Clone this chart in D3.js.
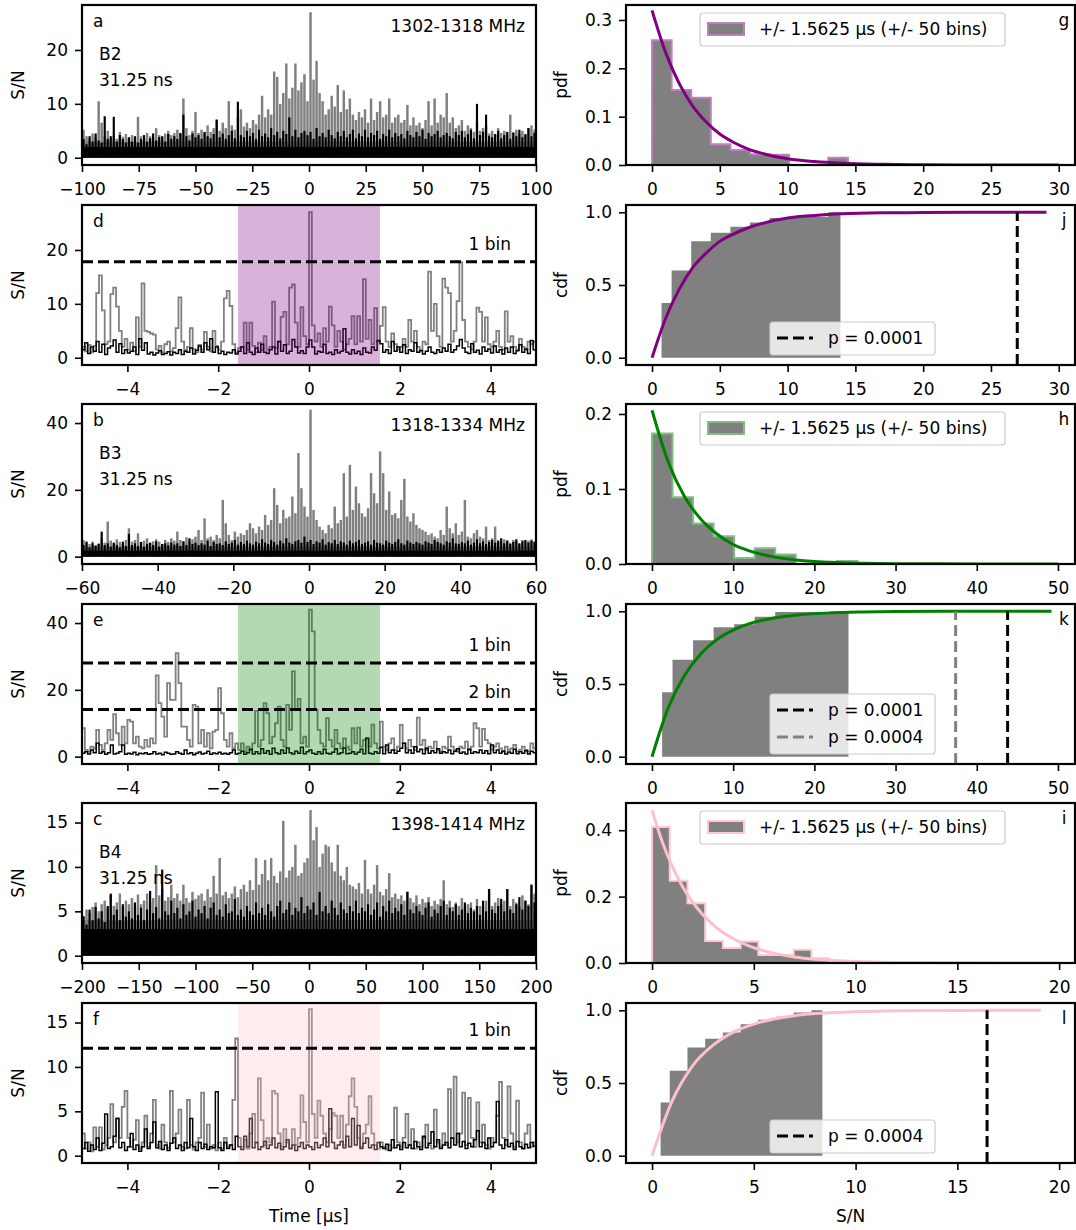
<!DOCTYPE html>
<html>
<head>
<meta charset="utf-8">
<script src="https://cdn.jsdelivr.net/npm/d3@7"></script>
<style>
  body { margin: 0; background: #fff; }
  svg { display: block; font-family: 'DejaVu Sans', sans-serif; }
</style>
</head>
<body>
<script>
// ====================== DATA ======================
// wide time series: per-bin peak S/N (gray = on-source, black = reference)
const aGray = [5.2,4.0,3.5,4.5,3.8,10.5,6.5,4.0,5.0,3.6,4.2,3.5,4.8,3.9,4.4,
  3.6,4.2,3.8,7.6,4.0,3.5,4.6,4.0,3.7,5.5,4.2,3.8,4.5,5.0,4.2,
  4.6,5.2,4.4,11.0,5.5,4.2,5.0,8.5,4.6,5.2,4.5,6.0,4.8,5.5,7.0,
  5.0,6.5,5.5,10.5,6.0,5.2,7.5,9.0,5.8,6.5,5.5,7.0,6.2,8.0,11.5,
  7.5,9.0,8.0,16.0,15.0,10.0,12.0,17.5,11.0,13.0,17.5,12.5,14.0,15.5,10.5,
  27.0,14.5,18.0,12.0,10.5,8.0,9.0,11.5,9.5,13.5,8.5,12.5,9.0,11.0,8.0,
  7.0,8.5,7.5,9.0,6.5,11.0,7.0,8.5,10.5,7.5,8.0,11.0,6.5,7.5,8.0,
  6.5,7.0,9.8,6.0,7.5,6.0,6.5,5.5,7.0,10.5,6.0,11.0,6.5,8.0,7.5,
  12.0,6.5,7.5,5.5,6.0,7.0,5.0,6.0,5.5,4.8,6.5,5.0,5.5,6.0,4.5,
  5.0,4.2,5.5,4.6,5.0,4.4,8.0,4.8,5.2,4.5,5.0,4.2,5.5,6.0,5.2]
const aBlack = [3.5,2.5,4.0,3.0,4.5,3.2,2.8,7.7,3.5,4.0,7.6,3.0,4.2,3.5,2.8,
  3.8,3.0,4.0,2.8,3.5,4.2,3.0,3.6,4.5,3.2,3.8,4.0,3.0,4.4,3.5,
  4.0,3.5,4.6,8.0,4.0,3.2,4.5,3.8,4.2,3.5,4.8,4.0,3.6,4.4,7.1,
  3.8,4.5,3.5,4.2,5.0,3.6,10.4,4.2,3.8,5.0,4.0,4.6,3.5,5.2,4.0,
  4.5,3.8,5.5,4.2,4.8,3.6,5.0,4.4,7.5,4.0,5.2,3.8,4.6,5.0,4.2,
  4.8,3.5,5.5,4.0,4.6,3.8,5.2,4.2,3.6,4.8,4.0,5.0,3.8,4.4,5.2,
  3.6,4.5,4.0,5.2,3.8,4.6,4.2,5.0,3.5,4.4,4.0,5.2,3.8,4.6,4.0,
  4.4,3.6,5.0,4.2,3.8,4.8,4.0,5.2,3.5,4.6,4.0,4.4,5.0,3.8,4.2,
  4.6,4.0,3.6,4.8,4.2,5.0,3.8,4.4,5.2,3.6,10.0,4.2,4.8,8.0,4.0,
  3.8,4.4,5.0,3.6,4.2,4.8,3.5,4.6,4.0,5.2,3.8,4.4,5.5,4.0,4.6]
const bGray = [5.0,4.2,3.8,4.5,3.5,4.0,5.5,4.2,10.5,4.8,4.0,5.2,4.4,3.8,5.0,
  8.5,4.5,5.0,7.0,4.2,4.8,5.5,4.0,4.6,5.2,4.5,3.8,5.0,4.4,5.5,
  4.8,7.5,5.0,4.5,5.8,4.6,5.2,6.0,8.0,5.0,11.5,5.5,6.0,5.0,6.5,
  5.5,17.0,10.0,6.5,5.0,7.5,6.0,7.0,6.5,8.0,10.0,8.5,7.0,9.0,8.0,
  12.5,9.5,11.0,20.5,15.5,10.0,14.0,11.5,12.0,18.0,13.0,31.0,20.5,15.0,12.0,
  44.0,14.0,11.0,9.0,8.0,7.0,9.5,8.5,15.0,10.0,11.0,25.0,12.0,27.5,14.0,
  21.0,16.0,13.0,12.0,14.5,25.0,19.0,16.0,31.5,25.0,14.0,19.5,12.5,13.0,11.5,
  17.0,23.3,12.0,10.5,13.0,9.5,8.5,8.0,7.5,6.5,7.0,6.0,5.5,8.0,6.5,
  15.0,8.5,7.0,10.0,6.5,7.5,17.0,6.0,5.5,7.0,8.0,6.0,5.5,9.0,5.0,
  5.5,9.0,5.0,4.5,5.2,4.8,4.2,5.0,4.5,3.8,5.0,4.4,4.8,5.2,4.6]
const bBlack = [3.5,4.5,2.8,4.0,3.2,3.8,7.5,3.5,4.0,3.0,4.2,3.5,2.8,4.5,3.2,
  6.8,3.5,4.0,3.2,4.4,3.0,3.8,4.2,3.5,4.6,3.0,3.8,4.0,3.4,4.2,
  3.6,4.0,3.2,4.6,3.5,5.5,3.8,4.2,3.5,4.0,3.6,4.8,3.2,4.4,3.8,
  4.0,3.5,4.6,3.8,4.2,5.0,3.6,4.4,3.8,4.8,4.0,3.6,4.5,4.0,5.2,
  4.2,3.8,5.0,4.4,3.6,4.8,4.0,5.5,4.2,3.8,4.6,5.0,4.2,6.0,4.4,
  5.0,3.8,4.6,4.2,5.2,3.6,4.4,4.0,5.0,3.8,4.6,4.2,3.6,4.8,4.0,
  4.4,5.0,3.8,4.2,4.6,3.6,5.0,4.2,4.0,3.6,4.8,4.2,3.8,4.4,5.2,
  4.0,3.6,4.8,4.2,3.8,4.4,4.0,3.6,4.6,4.2,3.8,5.0,4.4,4.0,3.6,
  4.6,4.2,5.5,4.0,3.8,4.4,4.0,4.8,3.6,4.2,5.2,4.0,4.6,3.8,4.4,
  5.0,4.2,4.6,5.5,4.0,4.8,3.8,4.4,5.2,4.0,4.6,5.0,4.2,4.8,4.4]
const cGray = [4.5,5.2,4.8,5.5,6.0,5.0,5.8,6.2,5.4,6.8,5.6,6.0,7.0,5.5,6.2,
  5.8,6.5,5.5,6.9,5.8,6.2,7.0,6.0,6.5,10.2,6.8,7.5,6.2,6.6,8.0,
  6.5,7.0,6.2,8.0,6.5,6.0,7.2,6.4,6.8,7.0,6.2,7.5,6.6,9.0,7.0,
  11.0,6.8,7.2,6.5,7.0,7.8,6.6,7.5,8.0,7.2,8.5,7.4,11.0,8.0,9.2,
  10.8,8.5,11.0,9.0,8.2,9.5,15.2,8.8,9.6,10.0,12.5,9.0,9.3,10.5,11.0,
  16.4,13.0,14.5,10.0,11.5,12.5,12.3,10.5,9.5,12.5,9.0,8.5,10.0,8.0,7.8,
  7.5,8.2,7.0,10.8,7.5,7.0,8.0,10.2,7.2,6.8,7.5,9.3,6.6,7.0,6.4,
  6.8,6.2,7.2,6.5,6.0,6.8,5.8,6.4,6.0,6.6,5.6,6.2,5.8,6.4,8.5,
  5.8,6.2,5.5,6.0,5.6,6.5,5.4,5.8,6.0,5.2,6.4,5.6,5.5,6.2,7.5,
  5.6,6.0,6.5,5.8,6.2,7.5,5.6,6.4,6.0,5.5,6.8,6.2,5.8,8.0,7.0]
const cBlack = [4.4,3.5,5.2,4.0,5.5,4.2,5.0,3.8,5.6,7.0,4.6,5.2,4.0,5.8,4.4,
  5.0,4.2,6.0,4.6,5.4,4.0,5.2,7.3,4.8,5.5,4.2,9.7,5.0,4.6,6.2,
  4.8,5.4,4.2,5.8,4.6,5.0,6.2,4.4,5.2,4.8,5.6,4.2,5.4,6.0,4.6,
  5.2,4.4,5.8,4.8,5.0,6.4,4.6,5.2,4.4,5.6,5.0,4.6,6.0,4.8,5.4,
  4.6,5.8,5.0,4.4,5.6,6.2,4.8,5.2,6.0,4.6,5.4,5.0,6.6,4.8,5.6,
  5.2,6.0,4.6,7.2,5.0,5.6,4.8,6.2,5.4,4.6,6.0,5.2,4.8,5.6,5.0,
  6.2,4.8,5.4,5.0,5.8,4.6,5.2,6.0,4.4,5.6,5.0,6.2,4.8,5.4,5.0,
  5.8,4.6,7.2,5.2,4.8,5.6,5.0,4.6,5.4,6.0,4.4,5.2,4.8,5.6,6.2,
  4.6,5.4,5.0,5.8,4.6,5.2,6.0,4.8,5.4,5.0,5.6,4.6,6.2,5.0,7.5,
  5.2,4.8,5.6,6.4,5.0,7.5,5.2,4.8,5.8,6.6,5.2,6.2,5.6,8.0,6.0]
// level below which each dense trace is solid: [gray, black] for a, b, c
const aFloor = [3.0, 2.0]
const bFloor = [3.0, 1.8]
const cFloor = [4.0, 3.0]

// zoomed time series (-5..5 µs, 62.5 ns steps)
const dGray = [2.0,1.2,2.4,1.0,2.2,12.0,15.3,8.8,2.5,3.0,11.8,13.0,9.5,5.0,2.0,3.5,
  1.5,2.8,1.2,7.5,2.0,13.8,5.0,4.8,4.5,4.3,1.5,2.2,1.0,2.5,3.0,1.2,
  1.8,5.5,11.2,3.0,1.4,2.0,5.5,1.6,1.0,2.4,1.5,4.8,2.0,1.2,5.0,2.2,
  1.5,3.0,11.0,12.4,9.6,2.5,1.0,1.8,2.0,6.5,1.5,6.5,2.2,1.0,2.8,1.4,
  4.0,1.5,2.0,10.4,1.8,3.0,7.6,8.5,2.5,13.0,13.6,6.5,2.0,9.4,4.0,2.5,
  27.0,6.0,3.0,4.5,2.0,5.5,3.0,9.5,6.0,2.0,5.0,3.0,1.5,2.5,3.5,7.7,
  2.5,7.7,3.0,14.6,3.5,7.0,2.5,9.2,3.0,5.9,9.4,3.0,2.0,4.5,2.5,1.5,
  2.0,3.5,2.0,7.0,3.0,5.0,2.0,1.5,3.0,2.5,16.0,5.0,10.0,4.0,2.0,14.7,
  13.0,12.0,3.0,5.0,10.5,17.7,7.0,3.0,2.0,1.5,3.0,9.3,8.5,3.0,7.5,2.5,
  2.0,3.0,5.0,2.0,1.5,8.6,3.0,4.0,2.0,1.5,3.5,2.0,1.5,3.0,2.5,3.0]
const dBlack = [1.5,2.8,0.8,2.0,1.2,3.0,1.0,2.5,0.6,1.8,2.2,3.3,1.0,2.6,0.8,1.5,
  0.9,1.2,2.0,0.6,3.5,1.4,2.8,0.7,1.0,0.5,0.9,1.3,0.6,0.8,1.1,0.5,
  1.0,0.8,1.5,0.6,1.2,1.0,1.8,0.7,1.4,2.2,1.0,2.8,1.5,3.5,1.0,2.0,
  0.8,1.2,0.6,1.0,0.9,1.5,0.7,1.2,2.0,0.8,2.8,1.0,0.6,1.8,1.0,2.5,
  1.0,0.8,1.5,2.0,0.7,3.0,1.2,2.4,0.8,1.2,3.4,2.0,0.9,1.3,0.8,2.0,
  3.3,2.0,0.7,1.2,1.0,2.5,0.8,1.0,0.6,1.5,0.9,1.2,5.4,1.0,0.7,1.5,
  0.8,1.2,0.6,1.8,1.0,0.9,2.0,1.4,3.2,2.6,1.0,1.5,0.8,3.0,1.2,2.0,
  1.0,2.4,0.8,1.5,1.2,2.8,1.0,1.3,0.7,1.2,2.0,1.0,0.8,1.5,1.0,1.8,
  1.2,2.5,1.0,1.5,2.2,3.4,1.8,1.0,0.8,2.6,1.0,1.4,0.7,2.0,1.2,1.6,
  0.9,2.2,1.0,1.5,0.7,1.8,1.0,2.0,0.8,1.3,2.4,1.0,1.6,0.8,3.2,1.5]
const eGray = [8.5,2.0,1.5,3.0,2.5,8.0,3.5,2.0,4.0,8.0,5.0,12.7,7.0,3.5,9.0,4.0,
  11.0,10.5,4.0,6.0,3.0,2.5,5.0,3.0,5.5,4.0,24.3,16.0,12.0,6.0,22.0,17.0,
  17.0,31.0,22.0,9.0,9.0,5.0,3.0,15.5,15.0,4.0,8.0,3.0,7.0,2.5,7.5,8.0,
  20.5,13.0,5.0,3.0,7.0,2.5,4.0,2.0,4.0,1.5,3.0,2.0,4.0,13.7,3.0,5.0,
  16.0,13.0,4.0,6.0,10.0,15.0,5.0,3.0,15.5,8.0,25.5,14.0,17.3,4.0,6.0,3.0,
  44.0,37.5,14.0,8.0,4.0,3.0,11.5,5.0,3.0,8.0,4.0,2.5,5.5,3.0,2.0,8.5,
  4.0,8.7,3.0,5.0,5.5,3.0,9.6,4.0,2.5,10.5,3.0,2.0,4.0,5.5,2.0,3.0,
  9.5,4.0,2.5,5.0,3.0,2.0,11.7,3.5,5.0,2.0,3.0,2.5,4.5,2.0,1.5,3.0,
  2.5,6.0,3.0,2.0,1.5,3.0,2.5,4.5,2.0,3.0,10.0,8.5,3.0,8.3,5.0,4.0,
  2.0,3.0,4.0,2.5,1.5,3.0,2.0,2.5,3.5,1.5,2.0,3.0,2.0,1.5,4.0,2.5]
const eBlack = [1.0,1.5,0.8,2.0,1.2,4.0,1.0,1.5,0.7,1.2,3.5,0.8,1.0,1.5,3.5,0.7,
  1.0,0.8,1.3,0.6,1.0,0.9,1.2,0.7,0.9,1.5,0.8,1.0,0.6,1.3,1.0,0.7,
  0.8,1.5,1.0,0.7,2.0,0.9,1.2,0.6,1.0,1.4,0.8,1.0,1.6,0.7,1.1,0.9,
  1.3,0.8,1.0,0.7,1.2,2.0,0.8,1.0,1.6,0.7,1.2,2.2,0.8,1.5,0.9,2.4,
  1.0,1.8,0.7,2.5,1.2,0.8,2.0,1.0,2.6,1.2,0.8,1.6,1.0,2.8,0.9,1.5,
  2.0,1.0,0.7,1.5,0.9,2.2,1.0,0.8,1.3,2.4,0.8,1.2,2.6,0.9,1.0,1.5,
  0.8,1.3,2.2,0.9,5.5,1.0,0.8,1.5,1.0,2.8,0.9,3.5,1.2,2.0,1.0,1.6,
  2.5,4.0,1.2,2.0,1.0,3.0,1.5,2.2,0.9,2.5,1.0,1.8,1.2,2.4,1.0,1.5,
  1.2,2.0,0.9,1.6,2.4,1.0,1.4,0.8,2.2,1.0,1.5,1.2,2.0,1.0,1.8,0.9,
  3.5,1.2,2.0,1.0,1.6,0.8,1.4,1.0,2.2,0.9,1.5,1.0,1.8,0.8,1.6,1.2]
const fGray = [2.5,0.8,1.5,0.5,3.2,1.0,3.2,0.7,1.2,2.0,5.8,1.5,4.2,2.0,5.5,7.3,
  2.0,1.0,1.8,4.0,0.8,1.5,4.5,1.0,2.5,6.3,1.2,0.8,3.5,1.5,0.9,7.3,
  1.5,2.5,5.2,1.0,0.8,6.3,1.2,0.7,1.5,2.0,7.1,1.0,3.5,0.8,1.2,0.6,
  1.5,0.8,2.0,1.0,1.2,6.3,13.2,2.0,1.0,1.8,0.8,2.5,4.7,1.5,8.7,4.0,
  1.2,2.0,1.5,7.3,7.0,2.5,1.0,3.0,1.5,0.8,3.0,1.2,2.0,6.8,3.8,1.5,
  16.5,4.7,2.0,6.2,4.5,2.5,1.5,3.0,4.8,4.5,2.0,4.5,1.2,3.5,6.7,8.7,
  5.5,2.0,1.0,2.5,3.5,6.7,2.5,1.2,0.8,1.5,1.0,0.7,1.2,0.9,5.4,1.5,
  1.0,2.0,4.7,1.2,3.0,0.8,1.5,1.0,2.0,3.5,1.2,0.8,5.2,1.5,1.0,2.5,
  1.2,7.5,2.0,8.9,1.5,2.5,7.1,1.2,6.5,2.0,1.0,6.0,1.5,3.5,1.2,0.8,
  2.0,1.5,4.5,8.3,2.0,1.2,7.8,2.5,1.0,6.2,1.5,0.8,2.5,3.5,1.0,1.5]
const fBlack = [0.8,1.5,0.5,1.2,0.7,2.0,0.6,1.4,4.7,0.8,1.0,2.2,4.2,0.9,1.5,0.6,
  1.0,2.5,0.7,1.2,0.5,1.0,3.0,0.8,1.5,3.8,0.9,1.6,0.7,1.2,0.6,1.4,
  2.0,0.8,1.2,0.6,1.5,0.9,4.2,1.0,0.6,1.5,0.8,1.3,0.7,1.0,0.9,7.2,
  0.9,0.6,1.5,0.8,1.2,0.7,2.2,1.0,0.7,2.2,1.0,4.2,0.9,1.5,0.7,1.0,
  1.6,0.8,1.2,2.0,0.9,1.4,0.7,1.0,1.8,0.8,1.2,0.6,1.0,1.5,0.8,1.2,
  1.0,0.7,1.5,0.9,1.2,2.0,1.0,5.3,1.5,0.8,1.2,1.6,0.9,2.2,1.0,4.2,
  1.2,3.4,0.8,1.4,2.0,0.9,1.2,0.7,1.5,1.0,0.8,1.3,0.6,1.8,0.9,1.2,
  0.7,1.5,0.9,1.2,0.8,1.6,1.0,0.7,2.2,0.9,1.4,2.7,1.0,1.8,0.8,1.2,
  1.5,0.9,2.0,1.2,2.5,1.0,1.6,0.8,1.4,1.0,1.8,2.8,1.0,1.5,0.8,2.0,
  1.0,1.5,6.1,1.2,0.8,1.8,1.0,1.4,0.7,1.6,1.0,0.8,1.3,0.9,1.5,1.1]

// detection thresholds in zoomed panels
const dThresh = [{ v: 17.8, label: '1 bin' }]
const eThresh = [{ v: 28.0, label: '1 bin' }, { v: 14.1, label: '2 bin' }]
const fThresh = [{ v: 12.1, label: '1 bin' }]

// histograms (pdf) of S/N within +/- 50 bins
const gEdges = [0, 1.445, 2.89, 4.335, 5.78, 7.225, 8.67, 10.115, 11.56, 13.005, 14.45]
const gPdf = [0.258, 0.155, 0.139, 0.043, 0.031, 0.022, 0.021, 0, 0, 0.015]
const hEdges = [0, 2.53, 5.06, 7.59, 10.12, 12.65, 15.18, 17.71, 20.24, 22.77, 25.3]
const hPdf = [0.174, 0.089, 0.054, 0.037, 0.008, 0.021, 0.0126, 0, 0, 0.004]
const iEdges = [0, 0.87, 1.74, 2.61, 3.48, 4.35, 5.22, 6.09, 6.96, 7.83, 8.7]
const iPdf = [0.41, 0.248, 0.18, 0.066, 0.045, 0.065, 0.024, 0.024, 0.04, 0.014]

// cumulative histograms
const jEdges = [0.7, 1.445, 2.89, 4.335, 5.78, 7.225, 8.67, 10.115, 11.56, 13.005, 13.9]
const jCdf = [0.377, 0.60, 0.80, 0.86, 0.90, 0.93, 0.96, 0.97, 0.97, 1.0]
const kEdges = [1.25, 2.53, 5.06, 7.59, 10.12, 12.65, 15.18, 17.71, 20.24, 22.77, 24.2]
const kCdf = [0.443, 0.667, 0.80, 0.89, 0.91, 0.963, 0.995, 0.995, 0.995, 1.0]
const lEdges = [0.42, 0.87, 1.74, 2.61, 3.48, 4.35, 5.22, 6.09, 6.96, 7.83, 8.37]
const lCdf = [0.366, 0.584, 0.744, 0.805, 0.847, 0.904, 0.934, 0.955, 0.984, 1.0]

// exponential fits
const gFitX = [0, 1, 2, 3, 4, 5, 6, 7, 8, 10, 12, 14, 17, 20, 25, 30]
const gFitY = [0.32, 0.233, 0.169, 0.122, 0.089, 0.064, 0.047, 0.034, 0.025, 0.013, 0.007, 0.0036, 0.0014, 0.0005, 0.0001, 0]
const jFitX = [0, 1, 2, 3, 4, 5, 6, 7, 8, 10, 12, 14, 17, 20, 25, 29.1]
const jFitY = [0, 0.27, 0.47, 0.62, 0.72, 0.80, 0.85, 0.89, 0.92, 0.96, 0.978, 0.989, 0.996, 0.998, 1.0, 1.0]
const hFitX = [0, 2, 4, 6, 8, 10, 12, 15, 18, 22, 26, 30, 40, 50]
const hFitY = [0.205, 0.136, 0.090, 0.060, 0.040, 0.026, 0.0175, 0.0095, 0.0051, 0.0023, 0.001, 0.0004, 0.0001, 0]
const kFitX = [0, 2, 4, 6, 8, 10, 12, 15, 18, 22, 26, 30, 40, 49.2]
const kFitY = [0, 0.336, 0.559, 0.707, 0.806, 0.871, 0.915, 0.954, 0.975, 0.989, 0.995, 0.998, 1.0, 1.0]
const iFitX = [0, 0.5, 1, 1.5, 2, 3, 4, 5, 6, 7, 8, 10, 12, 15, 20]
const iFitY = [0.46, 0.365, 0.29, 0.23, 0.183, 0.115, 0.073, 0.046, 0.029, 0.018, 0.011, 0.0046, 0.0018, 0.0005, 0]
const lFitX = [0, 1, 2, 3, 4, 5, 6, 7, 8, 10, 12, 15, 19.1]
const lFitY = [0, 0.38, 0.62, 0.76, 0.85, 0.905, 0.94, 0.963, 0.977, 0.99, 0.996, 0.999, 1.0]

// significance thresholds in cdf panels
const jLines = [{ v: 26.94, p: 'p = 0.0001', c: '#000' }]
const kLines = [{ v: 43.8, p: 'p = 0.0001', c: '#000' }, { v: 37.4, p: 'p = 0.0004', c: '#808080' }]
const lLines = [{ v: 16.46, p: 'p = 0.0004', c: '#000' }]

const bands = ['1302-1318 MHz', '1318-1334 MHz', '1398-1414 MHz']
const beams = ['B2', 'B3', 'B4']
const aTicks = [-100, -75, -50, -25, 0, 25, 50, 75, 100]
const bTicks = [-60, -40, -20, 0, 20, 40, 60]
const cTicks = [-200, -150, -100, -50, 0, 50, 100, 150, 200]

// ====================== LAYOUT ======================
const W = 1076, H = 1230
const FS = 17
const LX = 82, LW = 454, RX = 626, RW = 449, PH = 160
const rowTop = [5, 205, 404, 604, 803, 1003]

const svg = d3.select('body').append('svg').attr('width', W).attr('height', H)
  .style('font-size', FS + 'px')
let clipN = 0

function axes(px, py, pw, xd, yd, xt, yt, yfmt) {
  const x = d3.scaleLinear().domain(xd).range([px, px + pw])
  const y = d3.scaleLinear().domain(yd).range([py + PH, py])
  const id = 'clip' + (clipN++)
  svg.append('clipPath').attr('id', id).append('rect')
    .attr('x', px).attr('y', py).attr('width', pw).attr('height', PH)
  const plot = svg.append('g').attr('clip-path', `url(#${id})`)
  const finish = () => {
    const ax = svg.append('g').attr('transform', `translate(0,${py + PH})`)
      .call(d3.axisBottom(x).tickValues(xt).tickSize(7).tickPadding(11).tickFormat(d3.format('d')))
    const ay = svg.append('g').attr('transform', `translate(${px},0)`)
      .call(d3.axisLeft(y).tickValues(yt).tickSize(7).tickPadding(7).tickFormat(d3.format(yfmt)))
    for (const a of [ax, ay]) {
      a.select('.domain').remove()
      a.selectAll('line').attr('stroke', '#000').attr('stroke-width', 1.6)
      a.selectAll('text').attr('font-size', FS).attr('font-family', 'DejaVu Sans').attr('fill', '#000')
    }
    svg.append('rect').attr('x', px).attr('y', py).attr('width', pw).attr('height', PH)
      .attr('fill', 'none').attr('stroke', '#000').attr('stroke-width', 2.2)
  }
  return { x, y, plot, finish, px, py, pw }
}

function text(str, x, y, anchor, extra) {
  const t = svg.append('text').attr('x', x).attr('y', y).attr('text-anchor', anchor || 'start').text(str)
  if (extra) extra(t)
  return t
}

// ---------------- wide time series (a, b, c) ----------------
function widePanel(row, range, ticks, yd, yt, gray, black, floor, letter, band, beam) {
  const A = axes(LX, rowTop[row], LW, range, yd, ticks, yt, 'd')
  const step = (range[1] - range[0]) / gray.length
  const px = Math.abs(A.x(range[0] + step) - A.x(range[0]))
  const trace = (arr, fl, col, wf) => {
    A.plot.append('rect').attr('x', A.x(range[0])).attr('width', LW)
      .attr('y', A.y(fl)).attr('height', A.y(0) - A.y(fl)).attr('fill', col)
    A.plot.append('g').selectAll('line').data(arr).join('line')
      .attr('x1', (d, i) => A.x(range[0] + (i + 0.5) * step))
      .attr('x2', (d, i) => A.x(range[0] + (i + 0.5) * step))
      .attr('y1', A.y(0)).attr('y2', d => A.y(d))
      .attr('stroke', col).attr('stroke-width', px * wf)
  }
  trace(gray, floor[0], '#808080', 0.82)
  trace(black, floor[1], '#000', 0.72)
  A.finish()
  const top = rowTop[row]
  text(letter, LX + 11, top + 22)
  text(band, LX + LW - 11, top + 27, 'end')
  text(beam, LX + 17, top + 55)
  text('31.25 ns', LX + 17, top + 81)
}

// ---------------- zoomed time series (d, e, f) ----------------
function zoomPanel(row, yd, yt, gray, black, thr, color, letter) {
  const A = axes(LX, rowTop[row], LW, [-5, 5], yd, [-4, -2, 0, 2, 4], yt, 'd')
  const dt = 10 / gray.length
  const pts = arr => {
    const p = arr.map((v, i) => [-5 + i * dt, v])
    p.push([5, arr[arr.length - 1]])
    return p
  }
  const line = d3.line().curve(d3.curveStepAfter).x(d => A.x(d[0])).y(d => A.y(d[1]))
  A.plot.append('path').attr('d', line(pts(gray))).attr('fill', 'none').attr('stroke', '#808080').attr('stroke-width', 1.8)
  A.plot.append('path').attr('d', line(pts(black))).attr('fill', 'none').attr('stroke', '#000').attr('stroke-width', 1.5)
  A.plot.append('rect').attr('x', A.x(-1.5625)).attr('width', A.x(1.5625) - A.x(-1.5625))
    .attr('y', rowTop[row]).attr('height', PH).attr('fill', color).attr('opacity', 0.3)
  for (const t of thr) {
    A.plot.append('line').attr('x1', LX).attr('x2', LX + LW).attr('y1', A.y(t.v)).attr('y2', A.y(t.v))
      .attr('stroke', '#000').attr('stroke-width', 3).attr('stroke-dasharray', '11,5')
  }
  A.finish()
  for (const t of thr) text(t.label, LX + LW - 25, A.y(t.v) - 12, 'end')
  text(letter, LX + 11, rowTop[row] + 22)
}

// ---------------- pdf panels (g, h, i) ----------------
function stepPoly(edges, h) {
  const p = [[edges[0], 0]]
  h.forEach((v, i) => { p.push([edges[i], v]); p.push([edges[i + 1], v]) })
  p.push([edges[edges.length - 1], 0])
  return p
}

function pdfPanel(row, xd, xt, yd, yt, edges, pdf, fx, fy, color, edgeColor, letter) {
  const A = axes(RX, rowTop[row], RW, xd, yd, xt, yt, '.1f')
  const ln = d3.line().x(d => A.x(d[0])).y(d => A.y(d[1]))
  A.plot.append('path').attr('d', ln(stepPoly(edges, pdf)) + 'Z').attr('fill', '#808080')
    .attr('stroke', edgeColor).attr('stroke-width', 2).attr('stroke-linejoin', 'miter')
  A.plot.append('path').attr('d', d3.line().curve(d3.curveMonotoneX).x(d => A.x(d[0])).y(d => A.y(d[1]))(fx.map((v, i) => [v, fy[i]])))
    .attr('fill', 'none').attr('stroke', color).attr('stroke-width', 3)
  A.finish()
  const top = rowTop[row]
  // legend
  svg.append('rect').attr('x', RX + 74).attr('y', top + 8).attr('width', 305).attr('height', 33).attr('rx', 3)
    .attr('fill', '#fff').attr('fill-opacity', 0.8).attr('stroke', '#cccccc').attr('stroke-width', 1.2)
  svg.append('rect').attr('x', RX + 82).attr('y', top + 18).attr('width', 36).attr('height', 12)
    .attr('fill', '#808080').attr('stroke', edgeColor).attr('stroke-width', 2)
  text('+/- 1.5625 µs (+/- 50 bins)', RX + 133, top + 30)
  text(letter, RX + 438, top + 21, 'middle')
}

// ---------------- cdf panels (j, k, l) ----------------
function cdfPanel(row, xd, xt, edges, cdf, fx, fy, color, lines, letter) {
  const A = axes(RX, rowTop[row], RW, xd, [-0.05, 1.05], xt, [0, 0.5, 1], '.1f')
  const ln = d3.line().x(d => A.x(d[0])).y(d => A.y(d[1]))
  A.plot.append('path').attr('d', ln(stepPoly(edges, cdf)) + 'Z').attr('fill', '#808080')
  A.plot.append('path').attr('d', d3.line().curve(d3.curveMonotoneX).x(d => A.x(d[0])).y(d => A.y(d[1]))(fx.map((v, i) => [v, fy[i]])))
    .attr('fill', 'none').attr('stroke', color).attr('stroke-width', 3)
  for (const l of lines) {
    A.plot.append('line').attr('x1', A.x(l.v)).attr('x2', A.x(l.v)).attr('y1', rowTop[row] + PH).attr('y2', A.y(1))
      .attr('stroke', l.c).attr('stroke-width', 3).attr('stroke-dasharray', '11,5')
  }
  A.finish()
  const top = rowTop[row]
  const lh = 27
  const boxH = 10 + lines.length * lh - 4
  const by = top + 150 - boxH
  svg.append('rect').attr('x', RX + 144).attr('y', by).attr('width', 165).attr('height', boxH).attr('rx', 3)
    .attr('fill', '#fff').attr('fill-opacity', 0.8).attr('stroke', '#cccccc').attr('stroke-width', 1.2)
  lines.forEach((l, i) => {
    const cy = by + 16 + i * lh
    svg.append('line').attr('x1', RX + 151).attr('x2', RX + 187).attr('y1', cy).attr('y2', cy)
      .attr('stroke', l.c).attr('stroke-width', 3).attr('stroke-dasharray', '11,5')
    text(l.p, RX + 202, cy + 6)
  })
  text(letter, RX + 438, top + 21, 'middle')
}

widePanel(0, [-100, 100], aTicks, [-1.35, 28.35], [0, 10, 20], aGray, aBlack, aFloor, 'a', bands[0], beams[0])
zoomPanel(1, [-1.35, 28.35], [0, 10, 20], dGray, dBlack, dThresh, '#800080', 'd')
widePanel(2, [-60, 60], bTicks, [-2.2, 45.7], [0, 20, 40], bGray, bBlack, bFloor, 'b', bands[1], beams[1])
zoomPanel(3, [-2.2, 45.7], [0, 20, 40], eGray, eBlack, eThresh, '#008000', 'e')
widePanel(4, [-200, 200], cTicks, [-0.82, 17.2], [0, 5, 10, 15], cGray, cBlack, cFloor, 'c', bands[2], beams[2])
zoomPanel(5, [-0.82, 17.2], [0, 5, 10, 15], fGray, fBlack, fThresh, '#ffc0cb', 'f')

pdfPanel(0, [-1.92, 31.2], [0, 5, 10, 15, 20, 25, 30], [0, 0.331], [0, 0.1, 0.2, 0.3], gEdges, gPdf, gFitX, gFitY, '#800080', '#bf80bf', 'g')
cdfPanel(1, [-1.92, 31.2], [0, 5, 10, 15, 20, 25, 30], jEdges, jCdf, jFitX, jFitY, '#800080', jLines, 'j')
pdfPanel(2, [-3.2, 52.1], [0, 10, 20, 30, 40, 50], [0, 0.2133], [0, 0.1, 0.2], hEdges, hPdf, hFitX, hFitY, '#008000', '#80bf80', 'h')
cdfPanel(3, [-3.2, 52.1], [0, 10, 20, 30, 40, 50], kEdges, kCdf, kFitX, kFitY, '#008000', kLines, 'k')
pdfPanel(4, [-1.28, 20.78], [0, 5, 10, 15, 20], [0, 0.482], [0, 0.2, 0.4], iEdges, iPdf, iFitX, iFitY, '#ffc0cb', '#ffc8d2', 'i')
cdfPanel(5, [-1.28, 20.78], [0, 5, 10, 15, 20], lEdges, lCdf, lFitX, lFitY, '#ffc0cb', lLines, 'l')

// axis titles
rowTop.forEach(t => {
  text('S/N', 24, t + PH / 2, 'middle', s => s.attr('transform', `rotate(-90,24,${t + PH / 2})`))
})
;['pdf', 'cdf', 'pdf', 'cdf', 'pdf', 'cdf'].forEach((s, i) => {
  const cy = rowTop[i] + PH / 2
  text(s, 567, cy, 'middle', e => e.attr('transform', `rotate(-90,567,${cy})`))
})
text('Time [µs]', LX + LW / 2, 1222, 'middle')
text('S/N', RX + RW / 2, 1222, 'middle')
</script>
</body>
</html>
